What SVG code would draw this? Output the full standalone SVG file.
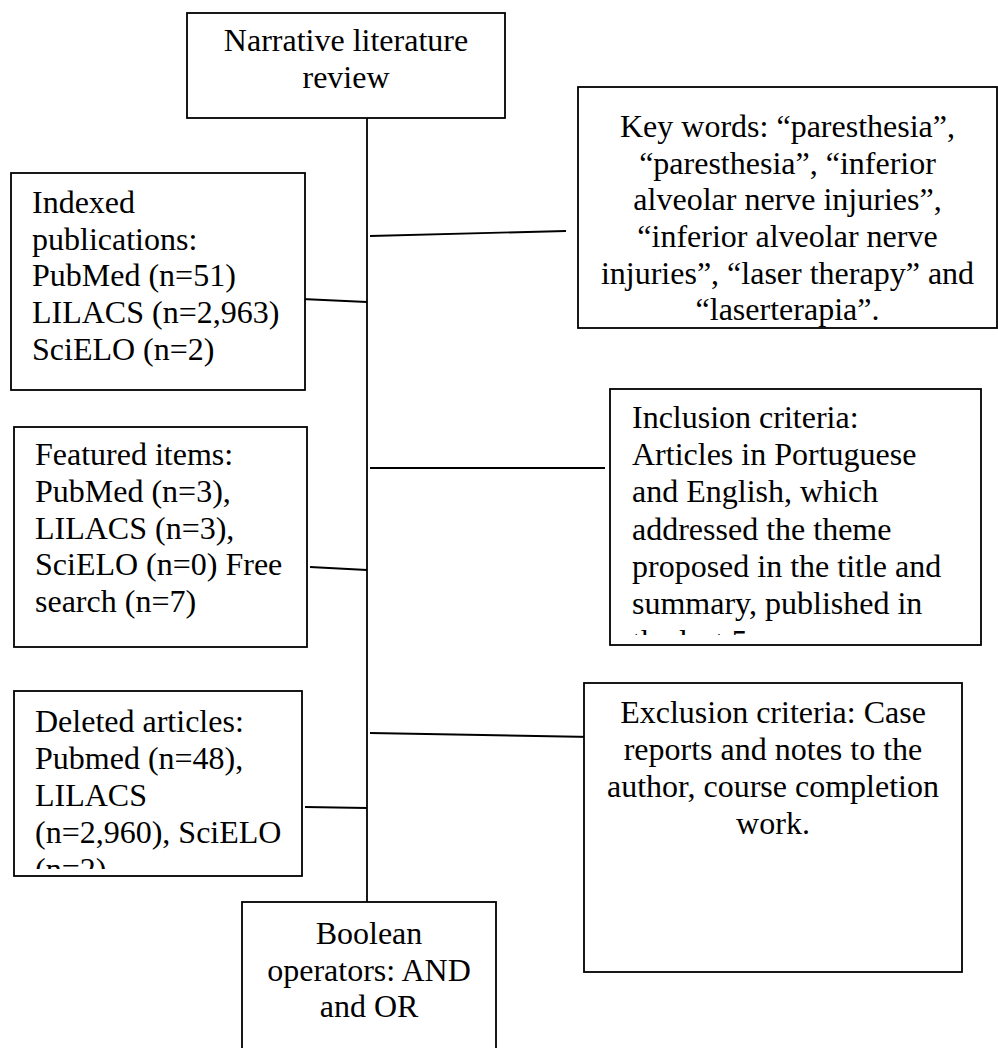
<svg xmlns="http://www.w3.org/2000/svg" width="998" height="1048" viewBox="0 0 998 1048">
<style>
.box{fill:#fff;stroke:#000;stroke-width:1.8}
.ln{stroke:#000;stroke-width:1.8;fill:none}
text{font-family:"Liberation Serif","Times New Roman",serif;font-size:32px;fill:#000}
.c{text-anchor:middle}
</style>
<defs>
<clipPath id="clipIncl"><rect x="610" y="389" width="371" height="246"/></clipPath>
<clipPath id="clipDel"><rect x="14" y="691" width="288" height="178"/></clipPath>
</defs>
<rect width="998" height="1048" fill="#fff"/>
<g id="connectors">
<line class="ln" x1="367" y1="118" x2="367" y2="902"/>
<line class="ln" x1="370" y1="236" x2="566" y2="231"/>
<line class="ln" x1="302" y1="299" x2="367" y2="302"/>
<line class="ln" x1="370" y1="468" x2="605" y2="468"/>
<line class="ln" x1="310" y1="567" x2="367" y2="570"/>
<line class="ln" x1="370" y1="733" x2="592" y2="737"/>
<line class="ln" x1="305" y1="807" x2="367" y2="808"/>
</g>
<g id="narrative">
<rect class="box" x="187" y="13" width="318" height="105"/>
<text class="c" x="346" y="51">Narrative literature</text>
<text class="c" x="346" y="88">review</text>
</g>
<g id="keywords">
<rect class="box" x="578" y="87" width="419" height="241"/>
<text class="c" x="787.5" y="137">Key words: “paresthesia”,</text>
<text class="c" x="787.5" y="174">“paresthesia”, “inferior</text>
<text class="c" x="787.5" y="210">alveolar nerve injuries”,</text>
<text class="c" x="787.5" y="247">“inferior alveolar nerve</text>
<text class="c" x="787.5" y="284">injuries”, “laser therapy” and</text>
<text class="c" x="787.5" y="320">“laserterapia”.</text>
</g>
<g id="indexed">
<rect class="box" x="11" y="173" width="294" height="217"/>
<text x="32" y="213">Indexed</text>
<text x="32" y="250">publications:</text>
<text x="32" y="286">PubMed (n=51)</text>
<text x="32" y="323">LILACS (n=2,963)</text>
<text x="32" y="360">SciELO (n=2)</text>
</g>
<g id="inclusion">
<rect class="box" x="610" y="389" width="371" height="256"/>
<g clip-path="url(#clipIncl)">
<text x="632" y="428">Inclusion criteria:</text>
<text x="632" y="465">Articles in Portuguese</text>
<text x="632" y="502">and English, which</text>
<text x="632" y="540">addressed the theme</text>
<text x="632" y="577">proposed in the title and</text>
<text x="632" y="614">summary, published in</text>
<text x="632" y="652">the last 5 years.</text>
</g>
</g>
<g id="featured">
<rect class="box" x="14" y="427" width="293" height="220"/>
<text x="35" y="465">Featured items:</text>
<text x="35" y="502">PubMed (n=3),</text>
<text x="35" y="539">LILACS (n=3),</text>
<text x="35" y="575">SciELO (n=0) Free</text>
<text x="35" y="612">search (n=7)</text>
</g>
<g id="exclusion">
<rect class="box" x="584" y="683" width="378" height="289"/>
<text class="c" x="773" y="723">Exclusion criteria: Case</text>
<text class="c" x="773" y="760">reports and notes to the</text>
<text class="c" x="773" y="797">author, course completion</text>
<text class="c" x="773" y="834">work.</text>
</g>
<g id="deleted">
<rect class="box" x="14" y="691" width="288" height="185"/>
<g clip-path="url(#clipDel)">
<text x="35" y="732">Deleted articles:</text>
<text x="35" y="769">Pubmed (n=48),</text>
<text x="35" y="806">LILACS</text>
<text x="35" y="843">(n=2,960), SciELO</text>
<text x="35" y="880">(n=2)</text>
</g>
</g>
<g id="boolean">
<rect class="box" x="242" y="902" width="254" height="170"/>
<text class="c" x="369" y="944">Boolean</text>
<text class="c" x="369" y="981">operators: AND</text>
<text class="c" x="369" y="1017">and OR</text>
</g>
</svg>
